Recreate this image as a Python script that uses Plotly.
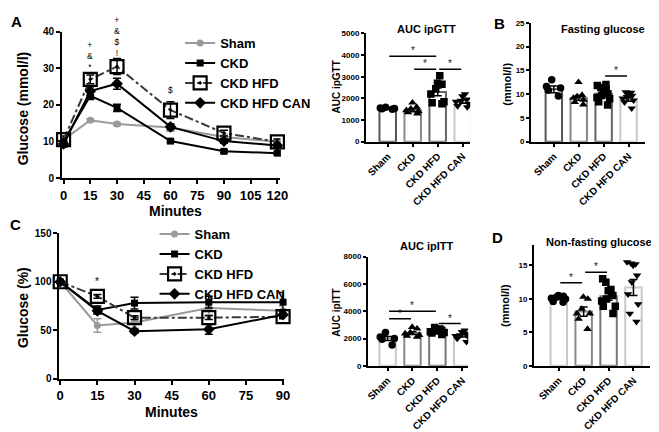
import plotly.graph_objects as go

W, H = 659, 432

# ---- data ----
time_gtt = [0, 15, 30, 60, 90, 120]
gtt_sham = [10.5, 15.8, 14.8, 13.8, 11.2, 9.9]
gtt_sham_err = [0.5, 0.4, 0.4, 1.0, 0.5, 0.4]
gtt_ckd = [10.0, 22.5, 19.2, 10.1, 7.3, 6.8]
gtt_ckd_err = [0.8, 1.0, 1.0, 0.4, 0.4, 0.4]
gtt_hfd = [10.5, 27.0, 30.5, 18.6, 12.3, 9.9]
gtt_hfd_err = [1.0, 1.2, 2.2, 2.3, 0.8, 0.8]
gtt_can = [9.3, 23.8, 25.8, 14.0, 10.1, 8.9]
gtt_can_err = [0.8, 1.2, 1.5, 0.8, 0.6, 0.6]

time_itt = [0, 15, 30, 60, 90]
itt_sham = [100, 55, 58, 73, 70]
itt_sham_err = [0, 7, 6, 7, 5]
itt_ckd = [100, 71, 78, 79, 79]
itt_ckd_err = [0, 4, 6, 6, 10]
itt_hfd = [100, 85, 63, 63, 64]
itt_hfd_err = [0, 2, 2, 2, 2]
itt_can = [100, 70, 49, 51, 66]
itt_can_err = [0, 3, 2, 5, 3]

groups = ["Sham", "CKD", "CKD HFD", "CKD HFD CAN"]

auc_gtt_mean = [1530, 1450, 2300, 1850]
auc_gtt_sem = [30, 70, 180, 70]
auc_gtt_pts = [
    [1500, 1530, 1560, 1590, 1520],
    [1800, 1600, 1520, 1450, 1400, 1350, 1300],
    [3050, 2700, 2650, 2450, 2200, 1850, 1750, 1800],
    [2200, 2100, 1950, 1900, 1850, 1750, 1650, 1600],
]

fast_mean = [11.0, 9.2, 10.1, 8.9]
fast_sem = [0.7, 0.5, 0.4, 0.4]
fast_pts = [
    [13.0, 11.6, 11.3, 10.8, 9.6],
    [12.5, 9.8, 9.5, 9.2, 8.8, 8.3, 7.8],
    [12.0, 11.8, 11.4, 11.0, 10.5, 10.1, 9.7, 9.3, 9.0, 8.4, 7.7],
    [10.4, 10.3, 10.0, 9.7, 9.4, 9.1, 8.7, 8.3, 7.0],
]

auc_itt_mean = [2000, 2400, 2500, 2200]
auc_itt_sem = [150, 100, 50, 80]
auc_itt_pts = [
    [2450, 2120, 2000, 1950, 1520],
    [2840, 2720, 2450, 2360, 2250, 2120, 2200],
    [2800, 2700, 2650, 2600, 2550, 2500, 2450, 2400, 2300],
    [2600, 2480, 2350, 2250, 2200, 2100, 2000, 1760],
]

nonfast_mean = [10.1, 8.1, 10.4, 11.7]
nonfast_sem = [0.2, 0.7, 0.6, 1.2]
nonfast_pts = [
    [10.5, 10.4, 10.3, 10.1, 10.0, 9.6, 9.5],
    [10.3, 10.0, 8.5, 7.8, 7.8, 7.0, 5.5],
    [13.0, 12.5, 11.4, 11.2, 10.5, 10.0, 9.7, 8.9, 8.9, 7.8],
    [15.5, 15.3, 15.2, 15.0, 13.5, 12.5, 10.7, 9.2, 7.8, 6.6],
]

# significance brackets: (from group, to group, height)
gtt_sig = [(0, 2, 3950), (1, 2, 3350), (2, 3, 3350)]
fast_sig = [(2, 3, 13.8)]
itt_sig = [(0, 2, 4000), (0, 1, 3450), (2, 3, 3100)]
nonfast_sig = [(0, 1, 12.4), (1, 2, 14.0)]

# stacked significance symbols above time points (centre of each stack)
gtt_mark_times = [15, 30, 60]
gtt_mark_mid = [33.3, 38.8, 24.0]
gtt_mark_text = ["+<br>&<br>*", "+<br>&<br>$<br>!", "$"]
itt_mark_times = [15]
itt_mark_mid = [100]
itt_mark_text = ["*"]

FONT = "Liberation Sans, Arial, sans-serif"


def xdom(a, b):
    return [a / W, b / W]


def ydom(top, bottom):
    return [1 - bottom / H, 1 - top / H]


fig = go.Figure()

# name, marker colour, line colour, symbol, size, dash
line_styles = [
    ("Sham", "#9a9a9a", "#9a9a9a", "circle", 7, "solid"),
    ("CKD", "black", "black", "square", 7, "solid"),
    ("CKD HFD", "black", "#3a3a3a", "square-open-dot", 13, "dashdot"),
    ("CKD HFD CAN", "black", "black", "diamond", 9, "solid"),
]

gtt_series = [(gtt_sham, gtt_sham_err), (gtt_ckd, gtt_ckd_err),
              (gtt_hfd, gtt_hfd_err), (gtt_can, gtt_can_err)]
itt_series = [(itt_sham, itt_sham_err), (itt_ckd, itt_ckd_err),
              (itt_hfd, itt_hfd_err), (itt_can, itt_can_err)]


def line_panel(series, xs, xa, ya, leg):
    for (name, mcol, lcol, sym, size, dash), (ys, es) in zip(line_styles, series):
        fig.add_trace(go.Scatter(
            x=xs, y=ys, name=name, mode="lines+markers", xaxis=xa, yaxis=ya,
            line=dict(color=lcol, width=2, dash=dash),
            marker=dict(symbol=sym, size=size, color=mcol,
                        line=dict(width=2.2 if "open" in sym else 0, color=mcol)),
            error_y=dict(type="data", array=es, color=mcol, thickness=1.5, width=4),
            cliponaxis=False, legend=leg))


line_panel(gtt_series, time_gtt, "x", "y", "legend")
line_panel(itt_series, time_itt, "x4", "y4", "legend2")

pt_symbols = ["circle", "triangle-up", "square", "triangle-down"]


def bar_panel(ax, means, sems, pts, outline, sig):
    xa, ya = "x" + ax, "y" + ax
    fig.add_trace(go.Bar(
        x=groups, y=means, xaxis=xa, yaxis=ya, width=0.66, showlegend=False,
        marker=dict(color="white", line=dict(color=outline, width=2))))
    for g, vals, sym in zip(groups, pts, pt_symbols):
        fig.add_trace(go.Box(
            x=[g] * len(vals), y=vals, xaxis=xa, yaxis=ya, boxpoints="all",
            jitter=1.0, pointpos=0, width=0.7, showlegend=False,
            fillcolor="rgba(0,0,0,0)", line=dict(color="rgba(0,0,0,0)", width=0),
            marker=dict(symbol=sym, size=7.5, color="black")))
    fig.add_trace(go.Scatter(
        x=groups, y=means, xaxis=xa, yaxis=ya, mode="markers", showlegend=False,
        marker=dict(size=1, color="rgba(0,0,0,0)"),
        error_y=dict(type="data", array=sems, color="black", thickness=1.5, width=4)))
    for a, b, h in sig:
        fig.add_shape(type="line", xref=xa, yref=ya, x0=a + 0.06, x1=b - 0.06,
                      y0=h, y1=h, line=dict(color="black", width=1.5))
        fig.add_annotation(xref=xa, yref=ya, x=(a + b) / 2, y=h, text="*",
                           showarrow=False, yanchor="bottom", yshift=-2,
                           font=dict(size=10, color="#222222"))


bar_panel("2", auc_gtt_mean, auc_gtt_sem, auc_gtt_pts,
          ["#555555", "#888888", "#666666", "#c8c8c8"], gtt_sig)
bar_panel("3", fast_mean, fast_sem, fast_pts,
          ["#555555", "#888888", "#666666", "#c8c8c8"], fast_sig)
bar_panel("5", auc_itt_mean, auc_itt_sem, auc_itt_pts,
          ["#c8c8c8", "#888888", "#777777", "#c8c8c8"], itt_sig)
bar_panel("6", nonfast_mean, nonfast_sem, nonfast_pts,
          ["#c8c8c8", "#888888", "#777777", "#c8c8c8"], nonfast_sig)

for t, v, s in zip(gtt_mark_times, gtt_mark_mid, gtt_mark_text):
    fig.add_annotation(xref="x", yref="y", x=t, y=v, text=s, showarrow=False,
                       yanchor="middle", font=dict(size=8.5, color="black"))
for t, v, s in zip(itt_mark_times, itt_mark_mid, itt_mark_text):
    fig.add_annotation(xref="x4", yref="y4", x=t, y=v, text=s, showarrow=False,
                       yanchor="middle", font=dict(size=10, color="black"))

axis_common = dict(showline=True, linecolor="black", linewidth=2, ticks="outside",
                   tickcolor="black", tickwidth=2, showgrid=False, zeroline=False)

tick_big = dict(size=13, family=FONT, color="black", weight="bold")
tick_mid = dict(size=10, family=FONT, color="black", weight="bold")
tick_small = dict(size=8, family=FONT, color="black", weight="bold")
cat_font = dict(size=10, family=FONT, color="black", weight="bold")
leg_font = dict(size=13, family=FONT, color="black", weight="bold")

fig.update_layout(
    xaxis=dict(domain=xdom(52, 274), range=[-0.8, 121.7], anchor="y",
               tickvals=[0, 15, 30, 45, 60, 75, 90, 105, 120], ticklen=4,
               tickfont=tick_big, **axis_common),
    yaxis=dict(domain=ydom(18.3, 168.3), range=[0, 40], anchor="x",
               tickvals=[0, 10, 20, 30, 40], ticklen=4, tickfont=tick_mid,
               **axis_common),
    xaxis4=dict(domain=xdom(49.3, 277.2), range=[-0.3, 90.2], anchor="y4",
                tickvals=[0, 15, 30, 45, 60, 75, 90], ticklen=4,
                tickfont=tick_big, **axis_common),
    yaxis4=dict(domain=ydom(225, 374.3), range=[0, 150], anchor="x4",
                tickvals=[0, 50, 100, 150], ticklen=4, tickfont=tick_mid,
                **axis_common),
    xaxis2=dict(domain=xdom(361, 467), range=[-0.87, 3.3], anchor="y2",
                tickangle=-45, ticklen=3, tickfont=cat_font, **axis_common),
    yaxis2=dict(domain=ydom(20, 131), range=[0, 5000], anchor="x2",
                tickvals=[0, 1000, 2000, 3000, 4000, 5000], ticklen=3,
                tickfont=tick_small, **axis_common),
    xaxis3=dict(domain=xdom(529, 645), range=[-0.91, 3.67], anchor="y3",
                tickangle=-45, ticklen=3, tickfont=cat_font, **axis_common),
    yaxis3=dict(domain=ydom(9, 131), range=[0, 25], anchor="x3",
                tickvals=[0, 5, 10, 15, 20, 25], ticklen=3,
                tickfont=tick_small, **axis_common),
    xaxis5=dict(domain=xdom(363, 465), range=[-0.79, 3.24], anchor="y5",
                tickangle=-45, ticklen=3, tickfont=cat_font, **axis_common),
    yaxis5=dict(domain=ydom(249, 361), range=[0, 8000], anchor="x5",
                tickvals=[0, 2000, 4000, 6000, 8000], ticklen=3,
                tickfont=tick_small, **axis_common),
    xaxis6=dict(domain=xdom(532, 650), range=[-0.99, 3.67], anchor="y6",
                tickangle=-45, ticklen=3, tickfont=cat_font, **axis_common),
    yaxis6=dict(domain=ydom(237.4, 361), range=[0, 18], anchor="x6",
                tickvals=[0, 5, 10, 15], ticklen=3,
                tickfont=tick_small, **axis_common),
    legend=dict(x=172 / W, y=1 - 14.5 / H, xanchor="left", yanchor="top",
                font=leg_font, bgcolor="rgba(0,0,0,0)", tracegroupgap=0, itemwidth=30),
    legend2=dict(x=146 / W, y=1 - 210.5 / H, xanchor="left", yanchor="top",
                 font=leg_font, bgcolor="rgba(0,0,0,0)", tracegroupgap=0, itemwidth=30),
    barmode="overlay", boxmode="overlay",
    width=W, height=H, margin=dict(l=0, r=0, t=0, b=0),
    plot_bgcolor="white", paper_bgcolor="white",
    font=dict(family=FONT, color="black"),
)

# text labels placed in pixel positions
labels = [
    ("A", 6, 8, 15, 0), ("B", 497, 10, 15, 0), ("C", 5, 216, 15, 0), ("D", 495, 229, 15, 0),
    ("Glucose (mmol/l)", 12, 97, 14, -90), ("Minutes", 167, 202, 14, 0),
    ("Glucose (%)", 13, 301, 14, -90), ("Minutes", 163, 408, 14, 0),
    ("AUC ipGTT", 423, 15, 11, 0), ("Fasting glucose", 602, 15, 11, 0),
    ("AUC ipITT", 423, 238, 11, 0), ("Non-fasting glucose", 598, 234, 11, 0),
    ("AUC ipGTT", 331, 75, 10, -90), ("AUC ipITT", 331, 306, 10, -90),
    ("(mmol/l)", 505, 72, 11, -90), ("(mmol/l)", 503, 299, 11, -90),
]
for txt, px, py, sz, ang in labels:
    fig.add_annotation(xref="paper", yref="paper", x=px / W, y=1 - py / H, text=txt,
                       showarrow=False, textangle=ang, xanchor="center", yanchor="middle",
                       font=dict(size=sz, family=FONT, color="black", weight="bold"))

fig.write_html("out.html")
